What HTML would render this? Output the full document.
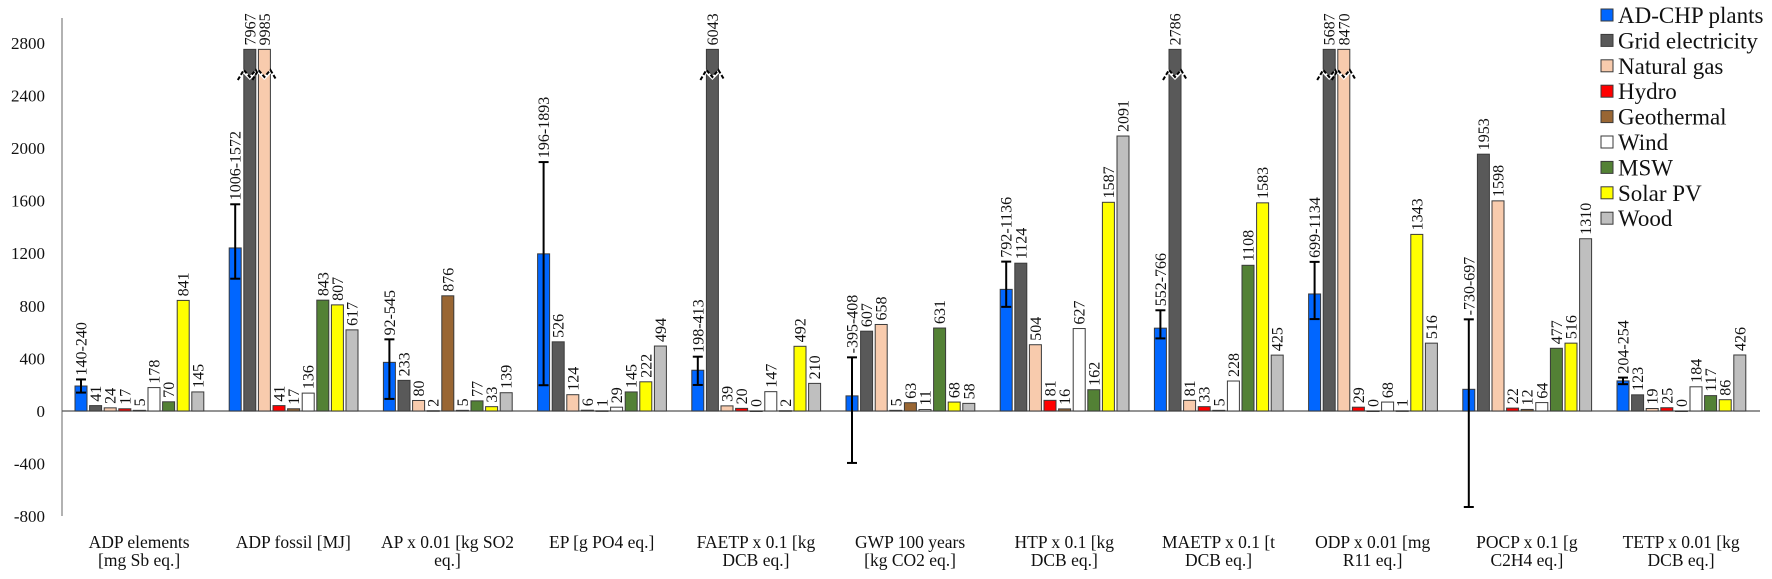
<!DOCTYPE html>
<html><head><meta charset="utf-8"><style>
html,body{margin:0;padding:0;background:#fff;}
svg{display:block;font-family:"Liberation Serif",serif;}
svg text{font-family:"Liberation Serif",serif;}
</style></head><body>
<svg id="chart" width="1772" height="579" viewBox="0 0 1772 579"></svg>
<script>
const categories = [
 ["ADP elements","[mg Sb eq.]"],["ADP fossil [MJ]",""],["AP x 0.01 [kg SO2","eq.]"],["EP [g PO4 eq.]",""],
 ["FAETP x 0.1 [kg","DCB eq.]"],["GWP 100 years","[kg CO2 eq.]"],["HTP x 0.1 [kg","DCB eq.]"],["MAETP x 0.1 [t","DCB eq.]"],
 ["ODP x 0.01 [mg","R11 eq.]"],["POCP x 0.1 [g","C2H4 eq.]"],["TETP x 0.01 [kg","DCB eq.]"]];
const seriesNames = ["AD-CHP plants","Grid electricity","Natural gas","Hydro","Geothermal","Wind","MSW","Solar PV","Wood"];
const seriesColors = ["#0066ff","#595959","#f8cbad","#ff0000","#996633","#ffffff","#538135","#ffff00","#bfbfbf"];
const adchpValues = [190,1240,370,1195,310,115,925,630,890,165,229];
const adchpLow = [140,1006,92,196,198,-395,792,552,699,-730,204];
const adchpHigh = [240,1572,545,1893,413,408,1136,766,1134,697,254];
const gridValues = [41,7967,233,526,6043,607,1124,2786,5687,1953,123];
const gasValues = [24,9985,80,124,39,658,504,81,8470,1598,19];
const hydroValues = [17,41,2,6,20,5,81,33,29,22,25];
const geoValues = [5,17,876,1,0,63,16,5,0,12,0];
const windValues = [178,136,5,29,147,11,627,228,68,64,184];
const mswValues = [70,843,77,145,2,631,162,1108,1,477,117];
const solarValues = [841,807,33,222,492,68,1587,1583,1343,516,86];
const woodValues = [145,617,139,494,210,58,2091,425,516,1310,426];
const yTicks = [2800,2400,2000,1600,1200,800,400,0,-400,-800];
const breakCap = 2750;

const NS="http://www.w3.org/2000/svg";
const FF='"Liberation Serif", serif';
const svg=document.getElementById('chart');
function el(t,a,p){const e=document.createElementNS(NS,t);for(const k in a)e.setAttribute(k,a[k]);(p||svg).appendChild(e);return e;}
const y0=411, perUnit=52.6/400;
function Y(v){return y0 - v*perUnit;}
const axisX=62, groupW=154.2, barOff=13, barPitch=14.6, barW=12;
function X(g,s){return axisX + g*groupW + barOff + s*barPitch;}

const ax=el('line',{x1:axisX,y1:18,x2:axisX,y2:516,stroke:'#999','stroke-width':1.5});


const zl=el('line',{x1:axisX,y1:Y(0),x2:1760,y2:Y(0),stroke:'#555','stroke-width':1.2});


yTicks.forEach(t=>{
  const tx=el('text',{x:45,y:Y(t)+6,'text-anchor':'end','font-size':17,fill:'#111','font-family':FF});
  tx.textContent=t;
  
  
});
categories.forEach((c,g)=>{
  const cx=axisX+g*groupW+groupW/2;
  const t1=el('text',{x:cx,y:548,'text-anchor':'middle','font-size':17.5,fill:'#111','font-family':FF});
  t1.textContent=c[0];
  
  
  if(c[1]){const t2=el('text',{x:cx,y:566,'text-anchor':'middle','font-size':17.5,fill:'#111','font-family':FF});
    t2.textContent=c[1];
    
    }
});
const allSeries=[adchpValues,gridValues,gasValues,hydroValues,geoValues,windValues,mswValues,solarValues,woodValues];
allSeries.forEach((vals,s)=>{
  vals.forEach((v,g)=>{
    const dv=Math.min(v,breakCap);
    const x=X(g,s);
    const top=Y(Math.max(dv,0)), h=Math.abs(Y(dv)-Y(0));
    const r=el('rect',{x:x,y:top,width:barW,height:Math.max(h,0.5),fill:seriesColors[s],stroke:'#3a3a3a','stroke-width':1});
    
    
    let labTop=top, label=String(v);
    if(s===0){
      const lo=adchpLow[g], hi=adchpHigh[g], xc=x+barW/2;
      const eb=el('g',{stroke:'#000','stroke-width':2});
      el('line',{x1:xc,y1:Y(lo),x2:xc,y2:Y(hi)},eb);
      el('line',{x1:xc-5,y1:Y(lo),x2:xc+5,y2:Y(lo)},eb);
      el('line',{x1:xc-5,y1:Y(hi),x2:xc+5,y2:Y(hi)},eb);
      
      
      labTop=Math.min(top,Y(hi)); label=lo+'-'+hi;
    }
    if(v>breakCap){
      const by=72, bk=el('g',{});
      el('polygon',{points:`${x-1},${by-3} ${x+barW/2},${by+4} ${x+barW+1},${by-3} ${x+barW+1},${by+1} ${x+barW/2},${by+8} ${x-1},${by+1}`,fill:'#fff'},bk);
      el('polyline',{points:`${x-6},${by+8} ${x},${by-2} ${x+barW/2},${by+5} ${x+barW},${by-2} ${x+barW+6},${by+8}`,fill:'none',stroke:'#000','stroke-width':2,'stroke-dasharray':'4,2'},bk);
      
      
    }
    const lx=x+barW/2+5.5, ly=labTop-4;
    const t=el('text',{x:lx,y:ly,transform:`rotate(-90 ${lx} ${ly})`,'font-size':16,fill:'#111','font-family':FF});
    t.textContent=label;
    
    
  });
});
seriesNames.forEach((n,i)=>{
  const g=el('g',{});
  const cy=15+i*25.4;
  el('rect',{x:1601,y:cy-6,width:12,height:12,fill:seriesColors[i],stroke:'#3a3a3a','stroke-width':1},g);
  const t=el('text',{x:1618,y:cy+8,'font-size':23,fill:'#111','font-family':FF},g);
  t.textContent=n;
  
  
});
</script>
</body></html>
